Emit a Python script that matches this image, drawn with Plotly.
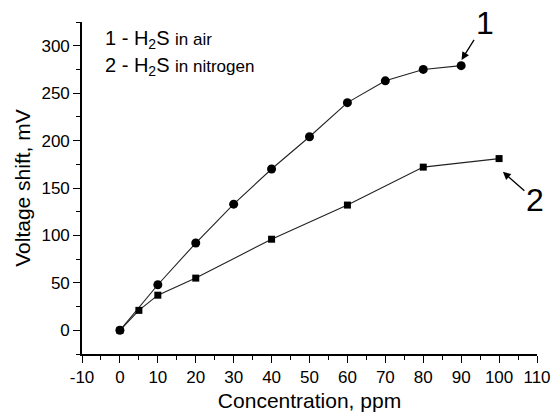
import plotly.graph_objects as go

# Data
air_x = [0, 10, 20, 30, 40, 50, 60, 70, 80, 90]
air_y = [0, 48, 92, 133, 170, 204, 240, 263, 275, 279]
n2_x = [0, 5, 10, 20, 40, 60, 80, 100]
n2_y = [0, 21, 37, 55, 96, 132, 172, 181]
x_ticks = [-10, 0, 10, 20, 30, 40, 50, 60, 70, 80, 90, 100, 110]
y_ticks = [0, 50, 100, 150, 200, 250, 300]

FONT = "Liberation Sans, Arial, Helvetica, sans-serif"

fig = go.Figure()
fig.add_trace(go.Scatter(
    x=air_x, y=air_y, mode="lines+markers",
    line=dict(color="#222", width=1.1),
    marker=dict(symbol="circle", size=9, color="black"),
    showlegend=False, cliponaxis=False))
fig.add_trace(go.Scatter(
    x=n2_x, y=n2_y, mode="lines+markers",
    line=dict(color="#222", width=1.1),
    marker=dict(symbol="square", size=7, color="black"),
    showlegend=False, cliponaxis=False))

axis_common = dict(
    showline=True, linecolor="black", linewidth=1.6,
    ticks="outside", ticklen=7, tickwidth=1.4, tickcolor="black",
    showgrid=False, zeroline=False, mirror=False,
    tickfont=dict(family=FONT, size=17, color="black"),
)

fig.update_xaxes(
    range=[-10, 110], tickvals=x_ticks, ticktext=[str(v) for v in x_ticks],
    minor=dict(ticks="outside", ticklen=4, tickwidth=1.2, tickcolor="black", dtick=5, tick0=0),
    title=dict(text="Concentration, ppm", font=dict(family=FONT, size=21, color="black"), standoff=7),
    **axis_common)
fig.update_yaxes(
    range=[-25, 325], tickvals=y_ticks, ticktext=[str(v) for v in y_ticks],
    minor=dict(ticks="outside", ticklen=4, tickwidth=1.2, tickcolor="black", dtick=25, tick0=0),
    title=dict(text="Voltage shift, mV", font=dict(family=FONT, size=21, color="black"), standoff=5),
    **axis_common)

annotations = [
    dict(x=0.046, y=0.946, xref="paper", yref="paper", xanchor="left", yanchor="middle",
         text="1 - H<sub>2</sub>S <span style='font-size:17px'>in air</span>",
         showarrow=False, font=dict(family=FONT, size=20, color="black")),
    dict(x=0.046, y=0.867, xref="paper", yref="paper", xanchor="left", yanchor="middle",
         text="2 - H<sub>2</sub>S <span style='font-size:17px'>in nitrogen</span>",
         showarrow=False, font=dict(family=FONT, size=20, color="black")),
    # label 1 with arrow to last point of curve 1
    dict(x=90.1, y=285, xref="x", yref="y", ax=23, ay=-37, text="1", showarrow=True,
         arrowhead=2, arrowsize=1.2, arrowwidth=1.3, arrowcolor="black",
         font=dict(family=FONT, size=32, color="black")),
    # label 2 with arrow to last point of curve 2
    dict(x=101, y=167, xref="x", yref="y", ax=32, ay=28, text="2", showarrow=True,
         arrowhead=2, arrowsize=1.2, arrowwidth=1.3, arrowcolor="black",
         font=dict(family=FONT, size=32, color="black")),
]

# page body has an 8px margin, so the figure is 8px smaller and margins shifted
fig.update_layout(
    width=552, height=407,
    margin=dict(l=74, r=23, t=14, b=61, autoexpand=False),
    plot_bgcolor="white", paper_bgcolor="white",
    font=dict(family=FONT, color="black"),
    annotations=annotations,
)

fig.write_html("out.html")
